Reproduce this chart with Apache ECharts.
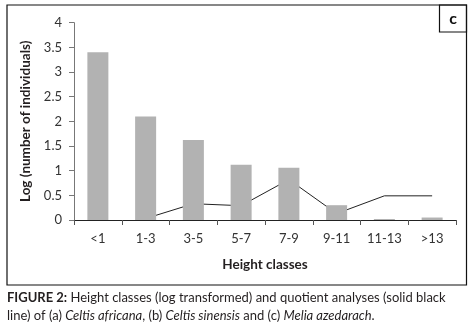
<!DOCTYPE html>
<html>
<head>
<meta charset="utf-8">
<script src="https://cdn.jsdelivr.net/npm/echarts@6/dist/echarts.min.js"></script>
<style>html,body{margin:0;padding:0;background:#fff;}#c{width:475px;height:324px;}</style>
</head>
<body>
<div id="c"></div>
<script>
const categories = ['<1', '1-3', '3-5', '5-7', '7-9', '9-11', '11-13', '>13'];
const logIndividuals = [3.40, 2.10, 1.62, 1.12, 1.06, 0.30, 0.02, 0.05];
const quotient = [null, 0.03, 0.33, 0.29, 0.82, 0.13, 0.49, 0.49];
const yTicks = { min: 0, max: 4, interval: 0.5 };

const FONT = 'Lato, "Open Sans", sans-serif';
const chart = echarts.init(document.getElementById('c'), null, { renderer: 'canvas' });
chart.setOption({
  animation: false,
  backgroundColor: '#fff',
  grid: { left: 74, right: 19, top: 22.7, bottom: 104 },
  xAxis: {
    type: 'category',
    data: categories,
    boundaryGap: true,
    name: 'Height classes',
    nameLocation: 'middle',
    nameGap: 38,
    nameTextStyle: { fontFamily: FONT, fontWeight: 'bold', fontSize: 13.5, color: '#231f20', verticalAlign: 'top' },
    axisLine: { lineStyle: { color: '#222', width: 1 } },
    axisTick: { show: true, length: 5, alignWithLabel: false, lineStyle: { color: '#555' } },
    axisLabel: { fontFamily: FONT, fontSize: 13, color: '#333', margin: 12 }
  },
  yAxis: {
    type: 'value',
    min: yTicks.min, max: yTicks.max, interval: yTicks.interval,
    name: 'Log (number of individuals)',
    nameLocation: 'middle',
    nameGap: 40,
    nameTextStyle: { fontFamily: FONT, fontWeight: 'bold', fontSize: 13.5, color: '#231f20' },
    axisLine: { show: true, lineStyle: { color: '#777', width: 1 } },
    axisTick: { show: true, length: 5, lineStyle: { color: '#777' } },
    splitLine: { show: false },
    axisLabel: { fontFamily: FONT, fontSize: 13, color: '#333', margin: 12 }
  },
  series: [
    {
      type: 'line',
      data: quotient,
      z: 1,
      symbol: 'none',
      connectNulls: false,
      lineStyle: { color: '#222', width: 1 }
    },
    {
      type: 'bar',
      data: logIndividuals,
      z: 2,
      barWidth: 21,
      itemStyle: { color: '#b2b2b2' }
    }
  ],
  graphic: [
    { type: 'rect', shape: { x: 7, y: 5, width: 459.5, height: 280 }, style: { fill: 'none', stroke: '#111', lineWidth: 1.2 }, z: 10 },
    { type: 'rect', shape: { x: 439.5, y: 5, width: 27, height: 27 }, style: { fill: 'none', stroke: '#111', lineWidth: 1.2 }, z: 10 },
    { type: 'text', x: 453, y: 19, style: { text: 'c', font: 'bold 16px ' + FONT, fill: '#111', align: 'center', verticalAlign: 'middle' }, z: 10 },
    { type: 'text', x: 7, y: 298, style: {
        text: '{b|FIGURE 2:} Height classes (log transformed) and quotient analyses (solid black',
        rich: { b: { font: 'bold 13px ' + FONT, fill: '#231f20' } },
        font: '13px ' + FONT, fill: '#231f20', verticalAlign: 'middle' }, z: 10 },
    { type: 'text', x: 7, y: 316, style: {
        text: 'line) of (a) {i|Celtis africana}, (b) {i|Celtis sinensis} and (c) {i|Melia azedarach}.',
        rich: { i: { font: 'italic 13px ' + FONT, fill: '#231f20' } },
        font: '13px ' + FONT, fill: '#231f20', verticalAlign: 'middle' }, z: 10 }
  ]
});
</script>
</body>
</html>
